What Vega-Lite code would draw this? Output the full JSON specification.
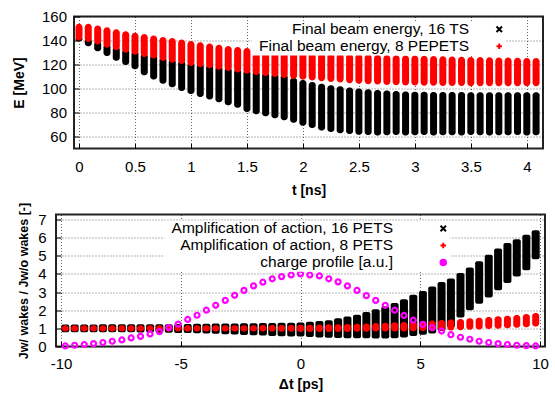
{
  "$schema": "https://vega.github.io/schema/vega-lite/v6.json",
  "background": "white",
  "padding": {"left": 10, "top": 8.5, "right": 0, "bottom": 0},
  "spacing": 2,
  "config": {
    "font": "Liberation Sans",
    "view": {"stroke": "#222", "strokeWidth": 2},
    "axis": {
      "labelFont": "Liberation Sans", "labelFontSize": 15, "labelColor": "#000",
      "titleFont": "Liberation Sans", "titleFontSize": 14, "titleFontWeight": "bold", "titleColor": "#000",
      "domain": false, "grid": true, "gridColor": "#000", "gridOpacity": 0.6, "gridDash": [1, 2],
      "ticks": true, "tickColor": "#000", "tickSize": -5, "tickWidth": 1,
      "labelFlush": false, "labelOverlap": false
    },
    "legend": {
      "labelFont": "Liberation Sans", "labelFontSize": 15.5, "labelColor": "#000",
      "labelAlign": "right", "labelLimit": 0,
      "fillColor": "white", "padding": 0, "orient": "none"
    }
  },
  "resolve": {"scale": {"color": "independent"}, "legend": {"color": "independent"}},
  "vconcat": [
    {
      "spacing": 0,
      "resolve": {"scale": {"color": "independent"}, "legend": {"color": "independent"}},
      "hconcat": [
        {"width": 1, "height": 1, "view": {"stroke": null}, "data": {"values": []}, "mark": "point"},
        {
          "width": 469,
          "height": 132,
          "data": {"values": [
            {"t": 0, "bl": 139.4, "bh": 143, "rl": 140, "rh": 153.9},
            {"t": 0.083, "bl": 135.2, "bh": 141.8, "rl": 138.8, "rh": 153.9},
            {"t": 0.167, "bl": 131, "bh": 139.6, "rl": 136.6, "rh": 152.5},
            {"t": 0.25, "bl": 127, "bh": 137, "rl": 134, "rh": 151.1},
            {"t": 0.333, "bl": 123.2, "bh": 134.8, "rl": 131.8, "rh": 149.3},
            {"t": 0.417, "bl": 119.5, "bh": 132.7, "rl": 129.7, "rh": 147.8},
            {"t": 0.5, "bl": 116, "bh": 131.2, "rl": 128.2, "rh": 146.5},
            {"t": 0.583, "bl": 111, "bh": 129.3, "rl": 126.3, "rh": 145.4},
            {"t": 0.667, "bl": 107.5, "bh": 128, "rl": 125, "rh": 144.2},
            {"t": 0.75, "bl": 104, "bh": 126, "rl": 123, "rh": 143},
            {"t": 0.833, "bl": 101, "bh": 124.5, "rl": 121.5, "rh": 142},
            {"t": 0.917, "bl": 98, "bh": 123.4, "rl": 120.4, "rh": 140.8},
            {"t": 1, "bl": 95.5, "bh": 121.8, "rl": 118.8, "rh": 139.6},
            {"t": 1.083, "bl": 93, "bh": 120.8, "rl": 117.8, "rh": 138.6},
            {"t": 1.167, "bl": 90.8, "bh": 119.8, "rl": 116.8, "rh": 137.5},
            {"t": 1.25, "bl": 88.5, "bh": 118.7, "rl": 115.7, "rh": 136.5},
            {"t": 1.333, "bl": 86, "bh": 117.5, "rl": 114.5, "rh": 135.5},
            {"t": 1.417, "bl": 84, "bh": 116.3, "rl": 113.3, "rh": 134.5},
            {"t": 1.5, "bl": 80.5, "bh": 115.3, "rl": 112.3, "rh": 133.8},
            {"t": 1.583, "bl": 78.5, "bh": 114.3, "rl": 111.3, "rh": 133.1},
            {"t": 1.667, "bl": 76.8, "bh": 113.4, "rl": 110.4, "rh": 132.5},
            {"t": 1.75, "bl": 75.3, "bh": 112.6, "rl": 109.6, "rh": 132},
            {"t": 1.833, "bl": 73.5, "bh": 111.8, "rl": 108.8, "rh": 131.4},
            {"t": 1.917, "bl": 71.5, "bh": 109, "rl": 108, "rh": 130.9},
            {"t": 2, "bl": 69, "bh": 107, "rl": 107.3, "rh": 130.4},
            {"t": 2.083, "bl": 67, "bh": 105.5, "rl": 106.6, "rh": 130.1},
            {"t": 2.167, "bl": 65, "bh": 104, "rl": 106, "rh": 129.8},
            {"t": 2.25, "bl": 63.8, "bh": 102.8, "rl": 105.4, "rh": 129.5},
            {"t": 2.333, "bl": 62.8, "bh": 101.8, "rl": 104.9, "rh": 129.2},
            {"t": 2.417, "bl": 62, "bh": 100.8, "rl": 104.4, "rh": 129},
            {"t": 2.5, "bl": 61.5, "bh": 100, "rl": 104, "rh": 128.7},
            {"t": 2.583, "bl": 61.2, "bh": 99.4, "rl": 103.6, "rh": 128.5},
            {"t": 2.667, "bl": 60.8, "bh": 98.8, "rl": 103.3, "rh": 128.2},
            {"t": 2.75, "bl": 61, "bh": 98.3, "rl": 103, "rh": 128},
            {"t": 2.833, "bl": 61.3, "bh": 97.9, "rl": 102.8, "rh": 127.8},
            {"t": 2.917, "bl": 60.9, "bh": 97.6, "rl": 102.6, "rh": 127.6},
            {"t": 3, "bl": 61, "bh": 97.3, "rl": 102.4, "rh": 127.4},
            {"t": 3.083, "bl": 61.2, "bh": 97.2, "rl": 102.3, "rh": 127.2},
            {"t": 3.167, "bl": 60.8, "bh": 97.1, "rl": 102.2, "rh": 127},
            {"t": 3.25, "bl": 61.1, "bh": 97.1, "rl": 102.1, "rh": 126.8},
            {"t": 3.333, "bl": 61, "bh": 97, "rl": 102, "rh": 126.6},
            {"t": 3.417, "bl": 60.9, "bh": 97, "rl": 102, "rh": 126.5},
            {"t": 3.5, "bl": 61.2, "bh": 96.9, "rl": 101.9, "rh": 126.3},
            {"t": 3.583, "bl": 61, "bh": 96.9, "rl": 101.9, "rh": 126.2},
            {"t": 3.667, "bl": 60.8, "bh": 96.9, "rl": 101.9, "rh": 126},
            {"t": 3.75, "bl": 61.1, "bh": 96.8, "rl": 101.8, "rh": 125.9},
            {"t": 3.833, "bl": 61, "bh": 96.8, "rl": 101.8, "rh": 125.8},
            {"t": 3.917, "bl": 61.2, "bh": 96.8, "rl": 101.8, "rh": 125.6},
            {"t": 4, "bl": 60.9, "bh": 96.8, "rl": 101.8, "rh": 125.5},
            {"t": 4.083, "bl": 61, "bh": 96.8, "rl": 101.8, "rh": 125.4}
          ]},
          "encoding": {
            "x": {"field": "t", "type": "quantitative",
              "scale": {"domain": [0, 4.1], "nice": false, "zero": false},
              "axis": {"title": "t [ns]", "values": [0, 0.5, 1, 1.5, 2, 2.5, 3, 3.5, 4], "labelExpr": "'' + datum.value", "labelOverlap": false, "labelPadding": 15.5, "titlePadding": 9}}
          },
          "layer": [
            {
              "mark": {"type": "bar", "size": 7, "cornerRadius": 3},
              "encoding": {
                "y": {"field": "bl", "type": "quantitative",
                  "scale": {"domain": [50, 160], "nice": false, "zero": false},
                  "axis": {"title": "E [MeV]", "values": [60, 80, 100, 120, 140, 160], "labelOverlap": false, "labelPadding": 12.5, "titlePadding": 15}},
                "y2": {"field": "bh"},
                "color": {"datum": "Final beam energy, 16 TS", "type": "nominal",
                  "scale": {"domain": ["Final beam energy, 16 TS", "Final beam energy, 8 PEPETS"], "range": ["#000000", "#ff0000"]},
                  "legend": {"title": null, "legendX": 178, "legendY": 5, "symbolOffset": 239.5, "labelOffset": -38, "rowPadding": -5,
                    "encode": {"symbols": {"update": {
                      "shape": {"signal": "datum.value == 'Final beam energy, 16 TS' ? 'M-1,-1L1,1M1,-1L-1,1' : 'M-1,0L1,0M0,-1L0,1'"},
                      "stroke": {"signal": "datum.value == 'Final beam energy, 16 TS' ? '#000000' : '#ff0000'"},
                      "fill": {"value": "transparent"},
                      "strokeWidth": {"value": 2},
                      "size": {"value": 30}
                    }}}}}
              }
            },
            {
              "mark": {"type": "bar", "size": 7, "cornerRadius": 3.5},
              "encoding": {
                "y": {"field": "rl", "type": "quantitative",
                  "axis": {"title": "E [MeV]", "values": [60, 80, 100, 120, 140, 160], "labelOverlap": false, "labelPadding": 12.5, "titlePadding": 15}},
                "y2": {"field": "rh"},
                "color": {"datum": "Final beam energy, 8 PEPETS", "type": "nominal"}
              }
            }
          ]
        }
      ]
    },
    {
      "spacing": 0,
      "resolve": {"scale": {"color": "independent"}, "legend": {"color": "independent"}},
      "hconcat": [
        {"width": 6, "height": 1, "view": {"stroke": null}, "data": {"values": []}, "mark": "point"},
        {
          "width": 489,
          "height": 132,
          "data": {"values": [
            {"dt": -9.82, "bl": 0.79, "bh": 1.21, "rl": 0.83, "rh": 1.17, "q": 0.03},
            {"dt": -9.43, "bl": 0.79, "bh": 1.21, "rl": 0.83, "rh": 1.17, "q": 0.07},
            {"dt": -9.03, "bl": 0.79, "bh": 1.21, "rl": 0.83, "rh": 1.17, "q": 0.11},
            {"dt": -8.64, "bl": 0.79, "bh": 1.21, "rl": 0.83, "rh": 1.17, "q": 0.16},
            {"dt": -8.25, "bl": 0.78, "bh": 1.22, "rl": 0.83, "rh": 1.17, "q": 0.22},
            {"dt": -7.86, "bl": 0.78, "bh": 1.22, "rl": 0.83, "rh": 1.17, "q": 0.29},
            {"dt": -7.46, "bl": 0.78, "bh": 1.22, "rl": 0.83, "rh": 1.17, "q": 0.36},
            {"dt": -7.07, "bl": 0.78, "bh": 1.22, "rl": 0.83, "rh": 1.17, "q": 0.47},
            {"dt": -6.68, "bl": 0.77, "bh": 1.22, "rl": 0.83, "rh": 1.17, "q": 0.56},
            {"dt": -6.28, "bl": 0.77, "bh": 1.23, "rl": 0.83, "rh": 1.17, "q": 0.69},
            {"dt": -5.89, "bl": 0.76, "bh": 1.23, "rl": 0.83, "rh": 1.17, "q": 0.82},
            {"dt": -5.5, "bl": 0.76, "bh": 1.23, "rl": 0.83, "rh": 1.17, "q": 1.04},
            {"dt": -5.11, "bl": 0.75, "bh": 1.24, "rl": 0.83, "rh": 1.17, "q": 1.23},
            {"dt": -4.71, "bl": 0.74, "bh": 1.24, "rl": 0.83, "rh": 1.17, "q": 1.49},
            {"dt": -4.32, "bl": 0.73, "bh": 1.25, "rl": 0.83, "rh": 1.17, "q": 1.72},
            {"dt": -3.93, "bl": 0.72, "bh": 1.25, "rl": 0.83, "rh": 1.17, "q": 2.0},
            {"dt": -3.54, "bl": 0.7, "bh": 1.26, "rl": 0.83, "rh": 1.17, "q": 2.27},
            {"dt": -3.14, "bl": 0.68, "bh": 1.26, "rl": 0.83, "rh": 1.17, "q": 2.54},
            {"dt": -2.75, "bl": 0.66, "bh": 1.27, "rl": 0.83, "rh": 1.17, "q": 2.82},
            {"dt": -2.36, "bl": 0.64, "bh": 1.28, "rl": 0.83, "rh": 1.17, "q": 3.09},
            {"dt": -1.96, "bl": 0.62, "bh": 1.28, "rl": 0.83, "rh": 1.17, "q": 3.34},
            {"dt": -1.57, "bl": 0.6, "bh": 1.29, "rl": 0.82, "rh": 1.18, "q": 3.54},
            {"dt": -1.18, "bl": 0.58, "bh": 1.3, "rl": 0.82, "rh": 1.18, "q": 3.73},
            {"dt": -0.79, "bl": 0.56, "bh": 1.31, "rl": 0.81, "rh": 1.19, "q": 3.85},
            {"dt": -0.39, "bl": 0.55, "bh": 1.31, "rl": 0.81, "rh": 1.19, "q": 3.94},
            {"dt": 0, "bl": 0.55, "bh": 1.32, "rl": 0.8, "rh": 1.2, "q": 4.0},
            {"dt": 0.39, "bl": 0.52, "bh": 1.36, "rl": 0.8, "rh": 1.2, "q": 3.94},
            {"dt": 0.79, "bl": 0.5, "bh": 1.4, "rl": 0.8, "rh": 1.21, "q": 3.89},
            {"dt": 1.18, "bl": 0.48, "bh": 1.45, "rl": 0.8, "rh": 1.22, "q": 3.73},
            {"dt": 1.57, "bl": 0.47, "bh": 1.55, "rl": 0.8, "rh": 1.23, "q": 3.56},
            {"dt": 1.96, "bl": 0.46, "bh": 1.65, "rl": 0.8, "rh": 1.24, "q": 3.34},
            {"dt": 2.36, "bl": 0.45, "bh": 1.75, "rl": 0.81, "rh": 1.25, "q": 3.09},
            {"dt": 2.75, "bl": 0.45, "bh": 1.9, "rl": 0.81, "rh": 1.27, "q": 2.8},
            {"dt": 3.14, "bl": 0.44, "bh": 2.05, "rl": 0.82, "rh": 1.29, "q": 2.54},
            {"dt": 3.54, "bl": 0.44, "bh": 2.2, "rl": 0.82, "rh": 1.31, "q": 2.27},
            {"dt": 3.93, "bl": 0.46, "bh": 2.4, "rl": 0.83, "rh": 1.33, "q": 2.0},
            {"dt": 4.32, "bl": 0.5, "bh": 2.6, "rl": 0.83, "rh": 1.35, "q": 1.71},
            {"dt": 4.71, "bl": 0.58, "bh": 2.85, "rl": 0.84, "rh": 1.37, "q": 1.45},
            {"dt": 5.11, "bl": 0.65, "bh": 3.05, "rl": 0.85, "rh": 1.4, "q": 1.22},
            {"dt": 5.5, "bl": 0.72, "bh": 3.3, "rl": 0.86, "rh": 1.43, "q": 1.04},
            {"dt": 5.89, "bl": 0.85, "bh": 3.55, "rl": 0.87, "rh": 1.46, "q": 0.85},
            {"dt": 6.28, "bl": 1.05, "bh": 3.75, "rl": 0.88, "rh": 1.49, "q": 0.65},
            {"dt": 6.68, "bl": 1.6, "bh": 4.05, "rl": 0.9, "rh": 1.52, "q": 0.51},
            {"dt": 7.07, "bl": 2.0, "bh": 4.35, "rl": 0.92, "rh": 1.55, "q": 0.4},
            {"dt": 7.46, "bl": 2.35, "bh": 4.7, "rl": 0.94, "rh": 1.59, "q": 0.29},
            {"dt": 7.86, "bl": 2.7, "bh": 5.05, "rl": 0.96, "rh": 1.62, "q": 0.22},
            {"dt": 8.25, "bl": 3.1, "bh": 5.4, "rl": 0.98, "rh": 1.66, "q": 0.16},
            {"dt": 8.64, "bl": 3.5, "bh": 5.7, "rl": 1.0, "rh": 1.7, "q": 0.11},
            {"dt": 9.03, "bl": 3.85, "bh": 5.9, "rl": 1.03, "rh": 1.74, "q": 0.07},
            {"dt": 9.43, "bl": 4.2, "bh": 6.15, "rl": 1.06, "rh": 1.79, "q": 0.05},
            {"dt": 9.82, "bl": 4.8, "bh": 6.4, "rl": 1.1, "rh": 1.84, "q": 0.03}
          ]},
          "encoding": {
            "x": {"field": "dt", "type": "quantitative",
              "scale": {"domain": [-10, 10], "nice": false, "zero": false},
              "axis": {"title": "Δt [ps]", "values": [-10, -5, 0, 5, 10], "labelExpr": "'' + datum.value", "labelOverlap": false, "labelPadding": 15, "titlePadding": 6}}
          },
          "layer": [
            {
              "mark": {"type": "bar", "size": 8, "cornerRadius": 2},
              "encoding": {
                "y": {"field": "bl", "type": "quantitative",
                  "scale": {"domain": [0, 7.27], "nice": false, "zero": false},
                  "axis": {"title": "Jw/ wakes / Jw/o wakes [-]", "titleFontSize": 12.5, "values": [0, 1, 2, 3, 4, 5, 6, 7], "labelOverlap": false, "labelPadding": 15, "titlePadding": 7}},
                "y2": {"field": "bh"},
                "color": {"datum": "Amplification of action, 16 PETS", "type": "nominal",
                  "scale": {"domain": ["Amplification of action, 16 PETS", "Amplification of action, 8 PETS", "charge profile [a.u.]"], "range": ["#000000", "#ff0000", "#ff00ff"]},
                  "legend": {"title": null, "legendX": 108.5, "legendY": 6.2, "symbolOffset": 271, "labelOffset": -58, "rowPadding": -3,
                    "encode": {"symbols": {"update": {
                      "shape": {"signal": "datum.value == 'Amplification of action, 16 PETS' ? 'M-1,-1L1,1M1,-1L-1,1' : (datum.value == 'Amplification of action, 8 PETS' ? 'M-1,0L1,0M0,-1L0,1' : 'circle')"},
                      "stroke": {"signal": "datum.value == 'Amplification of action, 16 PETS' ? '#000000' : (datum.value == 'Amplification of action, 8 PETS' ? '#ff0000' : '#ff00ff')"},
                      "fill": {"value": "transparent"},
                      "strokeWidth": {"value": 2},
                      "size": {"value": 30}
                    }}}}}
              }
            },
            {
              "mark": {"type": "bar", "size": 7, "cornerRadius": 3},
              "encoding": {
                "y": {"field": "rl", "type": "quantitative",
                  "axis": {"title": "Jw/ wakes / Jw/o wakes [-]", "titleFontSize": 12.5, "values": [0, 1, 2, 3, 4, 5, 6, 7], "labelOverlap": false, "labelPadding": 15, "titlePadding": 7}},
                "y2": {"field": "rh"},
                "color": {"datum": "Amplification of action, 8 PETS", "type": "nominal"}
              }
            },
            {
              "mark": {"type": "point", "filled": false, "size": 25, "strokeWidth": 2.2, "opacity": 1},
              "encoding": {
                "y": {"field": "q", "type": "quantitative",
                  "axis": {"title": "Jw/ wakes / Jw/o wakes [-]", "titleFontSize": 12.5, "values": [0, 1, 2, 3, 4, 5, 6, 7], "labelOverlap": false, "labelPadding": 15, "titlePadding": 7}},
                "color": {"datum": "charge profile [a.u.]", "type": "nominal"}
              }
            }
          ]
        }
      ]
    }
  ]
}
